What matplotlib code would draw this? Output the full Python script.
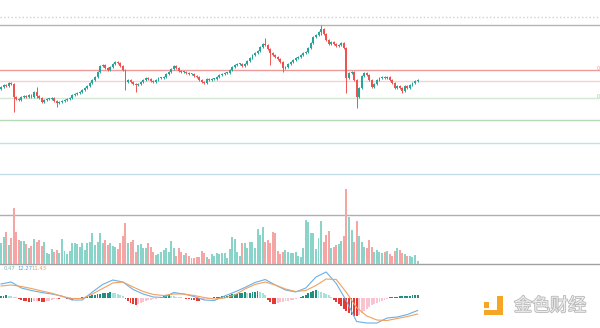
import matplotlib.pyplot as plt
import matplotlib.patheffects as pe
from matplotlib.patches import Rectangle

plt.rcParams['font.family'] = ['Noto Sans CJK SC', 'DejaVu Sans']

# closing prices (arbitrary price units)
closes = [
    113, 115, 114, 117, 116, 103, 101, 100, 103, 104,
    103, 105, 103, 108, 104, 102, 98, 100, 101, 101,
    102, 99, 97, 98, 99, 100, 101, 102, 105, 106,
    107, 108, 110, 112, 114, 117, 120, 123, 128, 134,
    135, 132, 130, 133, 136, 138, 137, 134, 130, 118,
    120, 118, 116, 115, 116, 118, 120, 122, 121, 119,
    118, 120, 122, 122, 123, 126, 128, 131, 134, 132,
    129, 128, 128, 127, 126, 126, 124, 123, 120, 118,
    117, 121, 120, 121, 121, 123, 125, 126, 127, 127,
    130, 133, 135, 136, 136, 134, 136, 139, 142, 145,
    147, 149, 153, 156, 155, 151, 147, 145, 143, 141,
    138, 132, 133, 136, 138, 140, 142, 143, 145, 147,
    148, 152, 157, 163, 165, 168, 171, 166, 160, 156,
    158, 156, 154, 155, 157, 152, 122, 127, 128, 120,
    103, 112, 124, 127, 125, 120, 113, 116, 120, 122,
    123, 122, 123, 120, 117, 112, 114, 112, 109, 114,
    112, 115, 117, 119, 120,
]
first_open = 111
# candles with long shadows: index -> (high, low)
long_wicks = {5: (116, 88), 14: (113, 102), 22: (100, 93), 49: (130, 110),
              53: (116, 108), 104: (162, 154), 106: (151, 135), 111: (138, 128),
              126: (175, 165), 136: (152, 107), 140: (120, 92), 158: (112, 107)}

volumes = [
    21, 27, 32, 19, 26, 56, 32, 24, 23, 23,
    20, 16, 18, 25, 22, 24, 18, 22, 11, 10,
    15, 12, 14, 11, 25, 13, 10, 13, 21, 21,
    20, 17, 21, 14, 21, 22, 31, 19, 22, 31,
    21, 24, 19, 21, 18, 17, 15, 21, 28, 41,
    21, 22, 24, 12, 19, 20, 16, 16, 21, 17,
    12, 9, 10, 12, 14, 16, 12, 23, 16, 8,
    16, 12, 9, 11, 8, 6, 6, 7, 7, 13,
    11, 7, 5, 10, 8, 11, 10, 11, 11, 6,
    15, 27, 25, 12, 8, 21, 21, 16, 22, 22,
    16, 35, 29, 37, 22, 24, 21, 32, 31, 13,
    10, 12, 14, 12, 11, 11, 12, 8, 7, 16,
    44, 42, 31, 31, 15, 26, 43, 22, 29, 33,
    16, 17, 19, 20, 23, 28, 75, 47, 34, 22,
    43, 28, 22, 17, 16, 24, 17, 12, 14, 12,
    11, 12, 13, 10, 8, 13, 16, 14, 11, 10,
    8, 8, 7, 9, 3,
]

# MACD lines, sampled every 4th candle
dif = [13.5, 15.5, 9.5, 7, 5, 3.5, 1.5, -2.5, -2.5, 5.5,
       13, 17.5, 15.5, 8, 3.5, 0.5, 0, 5, 3.5, 1,
       -2.5, -3, 1.5, 5.5, 10, 15, 18, 12.5, 7.5, 5.5,
       9.5, 20.5, 25.5, 14, -3.5, -24, -25.5, -25.5, -20.5, -19.5,
       -17, -13]
dea = [11.5, 12.5, 11, 9, 6.5, 4.3, 1, -1, -1, 3.5,
       9, 14.5, 15.5, 10.5, 6, 3, 2, 3.5, 3.5, 2,
       0, -1.5, -0.5, 2.5, 8.5, 13, 15.5, 12.5, 8.5, 6,
       7, 12, 18.5, 18, 5, -10, -18.5, -22.5, -23, -21,
       -19, -16.5]
hist = [
    2, 2, 2.5, 2, 1.5, 1, 0.5,
    -1, -2, -3, -3.5, -4, -4, -3.5, -3, -3, -4, -4, -3.5, -3, -2,
    -1.5, -1, -1, -0.5, -0.5,
    -1, -1.5, -2, -1.5, -1,
    -0.5, 0.5, 1,
    1.5, 2, 2.5, 3, 3.5, 4,
    4.5, 5, 5, 5.5, 5, 4.5, 4, 3, 2,
    -1, -3, -5, -6, -7, -6.5, -5.5, -4.5, -3.5,
    -2.5, -2, -1.5, -1, -0.5,
    1, 2, 3, 3, 2,
    1.5, 1, 0.5, 0.2, -0.5, -1,
    -1.5, -2, -2.5, -3, -3, -2.5, -2,
    -1.5, -1, -0.5, 0.5, 1, 1,
    1.5, 1.5, 2, 2.5,
    3.5, 4, 4, 4.5, 5, 5.5, 5, 5, 6, 6, 6.5, 6, 5, 3,
    -2, -4, -6, -6, -5, -4.5, -4, -3.5, -3, -2.5, -2, -1, -0.5,
    1, 2,
    3, 4.5, 6, 7, 7.5, 7,
    6, 5, 4, 2.5, 1,
    -2, -4, -6, -8, -11, -13, -15, -17, -18, -18, -17,
    -15, -13, -11, -9, -7, -6, -5, -4, -3, -2, -1,
    0.5, 1, 1, 1, 1.5, 1.5, 2, 2, 2, 2.5, 3, 3,
]
macd_text = ["0.47", "12.27", "11.43"]

# horizontal price levels: (price, colour, style)
levels = [(183, '#cfcfcf', ':'), (175, '#b4b4b4', '-'), (130, '#ef9a9a', '-'),
          (119, '#f6d0d4', '-'), (102, '#d3e9d3', '-'), (80, '#b5dab6', '-'),
          (57, '#c2e0ea', '-'), (26, '#c2e0ea', '-'), (-15, '#b0b0b0', '-')]

UP, DOWN = '#26a69a', '#ef5350'
UP_V, DOWN_V = '#8ad3c9', '#f5a5a3'

n = len(closes)
xs = list(range(n))
opens = [first_open] + closes[:-1]
highs, lows = [], []
for i in xs:
    hi, lo = max(opens[i], closes[i]) + 1.3, min(opens[i], closes[i]) - 1.3
    if i in long_wicks:
        hi = max(hi, long_wicks[i][0])
        lo = min(lo, long_wicks[i][1])
    highs.append(hi)
    lows.append(lo)

W, H = 600, 328
fig = plt.figure(figsize=(6, 3.28), dpi=100)
xlim = (-1 / 2.54, 599 / 2.54)

ax = fig.add_axes([0, 64 / H, 1, 264 / H])
ax.set_xlim(*xlim)
ax.set_ylim(-64, 200)
ax.axis('off')
for price, col, ls in levels:
    ax.axhline(price, color=col, lw=1, ls=ls, zorder=1)
ax.axhline(-63.5, color='#a0a0a0', lw=1, zorder=1, clip_on=False)

# volume on the same area
axv = fig.add_axes([0, 64 / H, 1, 264 / H])
axv.set_xlim(*xlim)
axv.set_ylim(0, 264)
axv.axis('off')
up = [c >= o for c, o in zip(closes, opens)]
axv.bar(xs, volumes, width=0.78, color=[UP_V if u else DOWN_V for u in up], zorder=2)

# candles
cols = [UP if u else DOWN for u in up]
ax.vlines(xs, lows, highs, colors=cols, lw=0.7, zorder=3)
bottoms = [min(o, c) for o, c in zip(opens, closes)]
heights = [max(abs(c - o), 0.6) for o, c in zip(opens, closes)]
ax.bar(xs, heights, bottom=bottoms, width=0.75, color=cols, zorder=4)

# MACD panel
axm = fig.add_axes([0, 0, 1, 64 / H])
axm.set_xlim(*xlim)
axm.set_ylim(-30.5, 33.5)
axm.axis('off')
hcols = []
for i, h in enumerate(hist):
    prev = hist[i - 1] if i else h
    if h >= 0:
        hcols.append('#1f8f7f' if h >= prev else '#a9e0d7')
    else:
        hcols.append('#e53935' if h <= prev else '#f9c4cf')
axm.bar(xs, hist, width=0.75, color=hcols, zorder=2)
mx = list(range(0, n, 4))
axm.plot(mx, dif, color='#6ab0e6', lw=0.8, zorder=3)
axm.plot(mx, dea, color='#f2a15e', lw=0.8, zorder=3)

fig.text(4 / W, 1 - 269 / H, macd_text[0], color='#7fb7b0', fontsize=3.8, va='center',
         family='DejaVu Sans')
fig.text(17 / W, 1 - 269 / H, macd_text[1], color='#5aa3e0', fontsize=3.8, va='center',
         family='DejaVu Sans')
fig.text(31 / W, 1 - 269 / H, macd_text[2], color='#f0a050', fontsize=3.8, va='center',
         family='DejaVu Sans')

# cut-off price labels at the right edge
fig.text(597 / W, 1 - 68 / H, '0', color='#e79a9a', fontsize=4, va='center')
fig.text(597 / W, 1 - 97 / H, '0', color='#9ccf9e', fontsize=4, va='center')

# watermark
for (x0, y0, w, h) in [(484, 302, 5, 6), (497, 296, 6, 15), (484, 310, 19, 5)]:
    fig.add_artist(Rectangle((x0 / W, 1 - (y0 + h) / H), w / W, h / H,
                             transform=fig.transFigure, color='#f5a623', lw=0))
fig.text(550 / W, 1 - 306 / H, '金色财经', fontsize=13, color='#ececec', ha='center',
         va='center', path_effects=[pe.withStroke(linewidth=1.2, foreground='#b8b8b8')])

fig.savefig('out.png', dpi=100)
